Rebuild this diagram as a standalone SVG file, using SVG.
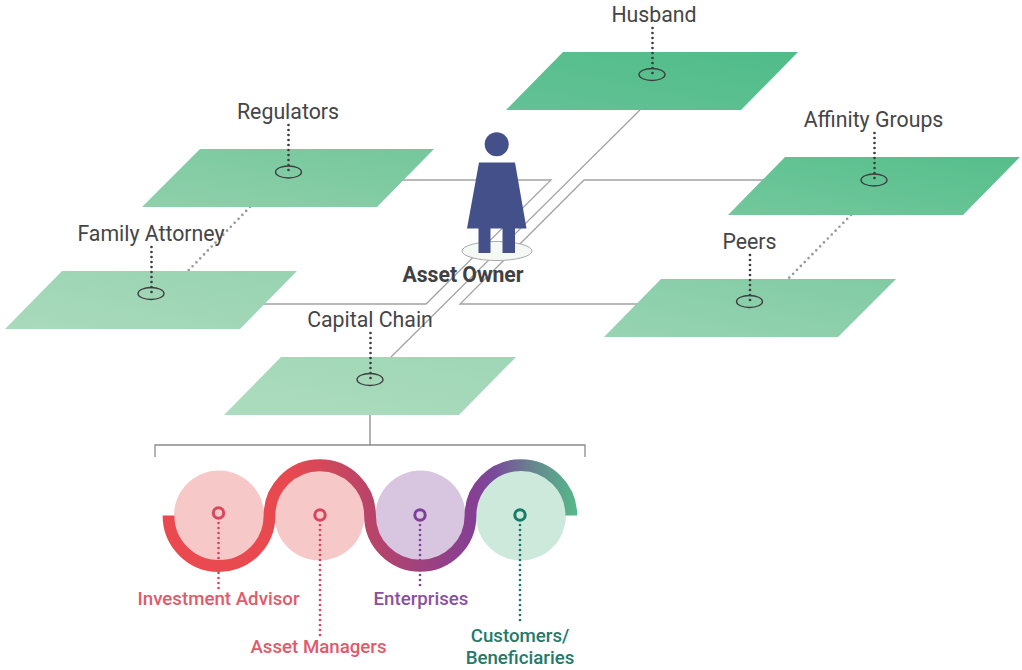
<svg xmlns="http://www.w3.org/2000/svg" width="1022" height="670" viewBox="0 0 1022 670">
<style>
text{font-family:Roboto,"Liberation Sans",sans-serif}
.l{font-size:21.300px;fill:#454547;text-anchor:middle}
.c{font-size:18.700px;font-weight:500;text-anchor:middle}
.w{fill:none;stroke:#a3a3a3;stroke-width:1.3}
.d{fill:none;stroke:#3d3d3f;stroke-width:2.700;stroke-linecap:round;stroke-dasharray:0 5}
.e{fill:none;stroke:#3d3d3f;stroke-width:1.300}
.g{fill:none;stroke:#9a9a9a;stroke-width:2.700;stroke-linecap:round;stroke-dasharray:0 5.500}
.o{fill:none;stroke-width:3}
.t{fill:none;stroke-width:2.700;stroke-linecap:round;stroke-dasharray:0 5}
</style>
<defs>
<linearGradient id="gH" x1="0" y1="1" x2="1" y2="0"><stop offset="0" stop-color="#64c296"/><stop offset="1" stop-color="#4fbc88"/></linearGradient>
<linearGradient id="gA" x1="0" y1="1" x2="1" y2="0"><stop offset="0" stop-color="#73c89c"/><stop offset="1" stop-color="#55be8b"/></linearGradient>
<linearGradient id="gR" x1="0" y1="1" x2="1" y2="0"><stop offset="0" stop-color="#8fd0ab"/><stop offset="1" stop-color="#75c79b"/></linearGradient>
<linearGradient id="gP" x1="0" y1="1" x2="1" y2="0"><stop offset="0" stop-color="#98d4b2"/><stop offset="1" stop-color="#80cba3"/></linearGradient>
<linearGradient id="gF" x1="0" y1="1" x2="1" y2="0"><stop offset="0" stop-color="#a9dabc"/><stop offset="1" stop-color="#97d3b1"/></linearGradient>
<linearGradient id="gC" x1="0" y1="1" x2="1" y2="0"><stop offset="0" stop-color="#acdcbe"/><stop offset="1" stop-color="#9fd6b6"/></linearGradient>
<linearGradient id="rib" gradientUnits="userSpaceOnUse" x1="163" y1="0" x2="577" y2="0">
<stop offset="0" stop-color="#ea4a4f"/><stop offset=".3" stop-color="#e8494f"/><stop offset=".5" stop-color="#b94468"/><stop offset=".75" stop-color="#853f93"/><stop offset=".8" stop-color="#7a4a9a"/><stop offset=".9" stop-color="#648a8e"/><stop offset="1" stop-color="#55b98a"/>
</linearGradient>
</defs>
<g id="connectors">
<path class="w" d="M400 180H551L426 304H262"/>
<path class="w" d="M640 110L391 357"/>
<path class="w" d="M765 180H584L460 304H640"/>
<path class="g" d="M250 207L188 271"/>
<path class="g" d="M851 215L788 279"/>
<path d="M370 415V445M155 457V445H585V457" fill="none" stroke="#8a8a8a" stroke-width="1.3"/>
</g>
<g id="husband">
<path d="M563 52H798L741 110H506Z" fill="url(#gH)"/>
<path class="d" d="M652.500 28V73.500"/><ellipse class="e" cx="652" cy="74.500" rx="13" ry="6"/>
<text class="l" x="654" y="22.400">Husband</text>
</g>
<g id="regulators">
<path d="M200 149H434L377 207H142Z" fill="url(#gR)"/>
<path class="d" d="M288.500 125V170.500"/><ellipse class="e" cx="288.500" cy="172" rx="13" ry="6"/>
<text class="l" x="288" y="119.400">Regulators</text>
</g>
<g id="family-attorney">
<path d="M62 271H297L240 329H5Z" fill="url(#gF)"/>
<path class="d" d="M151.500 247V292.500"/><ellipse class="e" cx="151" cy="293.500" rx="13" ry="6"/>
<text class="l" x="151" y="241.400">Family Attorney</text>
</g>
<g id="affinity-groups">
<path d="M785 157H1020L963 215H728Z" fill="url(#gA)"/>
<path class="d" d="M874.500 133V178.500"/><ellipse class="e" cx="874" cy="180" rx="13" ry="6"/>
<text class="l" x="873.500" y="127.400">Affinity Groups</text>
</g>
<g id="peers">
<path d="M661 279H896L838 337H604Z" fill="url(#gP)"/>
<path class="d" d="M750 255V300.500"/><ellipse class="e" cx="749.500" cy="301.500" rx="13" ry="6"/>
<text class="l" x="749.500" y="249.400">Peers</text>
</g>
<g id="capital-chain">
<path d="M281 357H516L459 415H224Z" fill="url(#gC)"/>
<path class="d" d="M370.500 333V378.500"/><ellipse class="e" cx="370" cy="379.500" rx="13" ry="6"/>
<text class="l" x="370" y="327.400">Capital Chain</text>
</g>
<g id="asset-owner">
<ellipse cx="497" cy="251" rx="35" ry="9.500" fill="#f4f9f6" stroke="#a9a9a9" stroke-width="1"/>
<circle cx="496.700" cy="144.300" r="12" fill="#445089"/>
<path d="M479 162.500H515L526.500 228.500H515V253H502.500V228.500H490.500V253H478.500V228.500H467Z" fill="#445089"/>
<text x="463" y="282.400" font-size="21.200" font-weight="700" fill="#414042" text-anchor="middle">Asset Owner</text>
</g>
<g id="investment-advisor">
<circle cx="219" cy="515.500" r="45" fill="#f7c8c8"/>
<circle class="o" cx="218.500" cy="513" r="5.200" stroke="#d9445f"/>
<path class="t" d="M218.500 523V588.500" stroke="#d9445f"/>
<text class="c" x="218.500" y="605" fill="#e05a6a">Investment Advisor</text>
</g>
<g id="asset-managers">
<circle cx="319.500" cy="515.500" r="45" fill="#f7c8c8"/>
<circle class="o" cx="320" cy="515" r="5.200" stroke="#d9445f"/>
<path class="t" d="M320 525V635.500" stroke="#d9445f"/>
<text class="c" x="318.500" y="653" fill="#e05a6a">Asset Managers</text>
</g>
<g id="enterprises">
<circle cx="420.500" cy="515.500" r="45" fill="#d8c6e0"/>
<circle class="o" cx="420" cy="515" r="5.200" stroke="#7f3f98"/>
<path class="t" d="M420 525V587.500" stroke="#7f3f98"/>
<text class="c" x="421" y="605" fill="#8b4fa3">Enterprises</text>
</g>
<g id="customers">
<circle cx="521" cy="515.500" r="45" fill="#cce9dc"/>
<circle class="o" cx="520" cy="515" r="5.200" stroke="#157a66"/>
<path class="t" d="M520 525V624.500" stroke="#157a66"/>
<text class="c" x="520" y="642" fill="#247a68">Customers/</text>
<text class="c" x="520" y="664" fill="#247a68">Beneficiaries</text>
</g>
<path id="ribbon" d="M168.500 515.500A50.500 50.500 0 0 0 269.500 515.500A50.250 50.250 0 0 1 370 515.500A50.250 50.250 0 0 0 470.500 515.500A50.400 50.400 0 0 1 571.300 515.500" fill="none" stroke="url(#rib)" stroke-width="11.800"/>
</svg>
